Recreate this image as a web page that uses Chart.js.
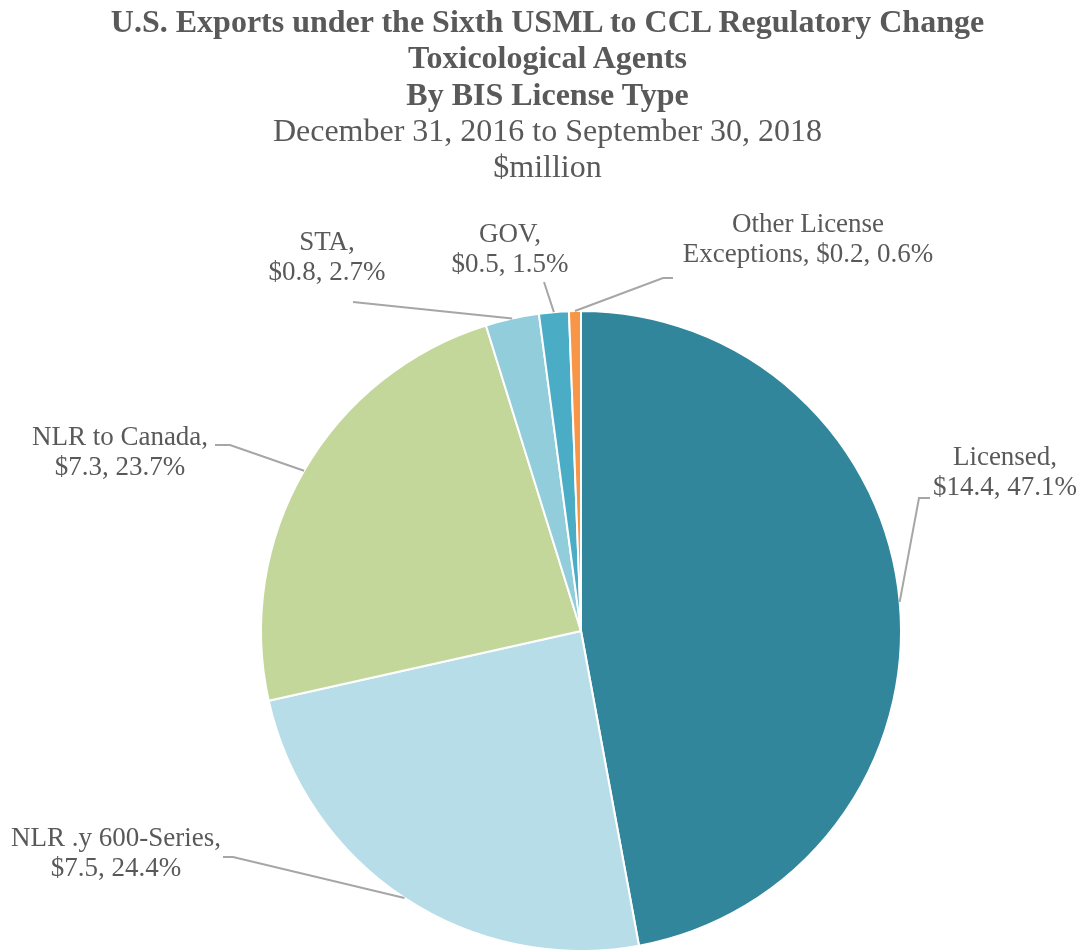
<!DOCTYPE html>
<html>
<head>
<meta charset="utf-8">
<script src="https://cdn.jsdelivr.net/npm/chart.js@4/dist/chart.umd.min.js"></script>
<style>
  html, body { margin: 0; padding: 0; background: #fff; }
  #wrap { position: relative; width: 1083px; height: 950px; overflow: hidden; }
  #title {
    position: absolute; left: 6px; top: 3px; width: 1083px;
    text-align: center; color: #595959;
    font-family: "Liberation Serif", "Times New Roman", serif;
    font-size: 32px; line-height: 36.3px;
  }
  #title b { font-weight: bold; }
  canvas { position: absolute; left: 0; top: 0; }
</style>
</head>
<body>
<div id="wrap">
  <canvas id="pie" width="1083" height="950"></canvas>
  <div id="title">
    <b>U.S. Exports under the Sixth USML to CCL Regulatory Change</b><br>
    <b>Toxicological Agents</b><br>
    <b>By BIS License Type</b><br>
    December 31, 2016 to September 30, 2018<br>
    $million
  </div>
</div>
<script>
// Slices, clockwise from 12 o'clock
const categories = ['Licensed', 'NLR .y 600-Series', 'NLR to Canada', 'STA', 'GOV', 'Other License Exceptions'];
const valuesMillion = [14.4, 7.5, 7.3, 0.8, 0.5, 0.2];
const sharePercent = [47.1, 24.4, 23.7, 2.7, 1.5, 0.6];
const sliceColors = ['#31869B', '#B7DDE8', '#C4D79B', '#92CDDC', '#4BACC6', '#F79646'];

// How each data label is broken into lines
const labelLines = [
  ['Licensed,', '{v}, {p}'],
  ['NLR .y 600-Series,', '{v}, {p}'],
  ['NLR to Canada,', '{v}, {p}'],
  ['STA,', '{v}, {p}'],
  ['GOV,', '{v}, {p}'],
  ['Other License', 'Exceptions, {v}, {p}']
];

// Label placement (text centre) and leader-line bend points, in canvas px
const labelLayout = [
  { x: 1005, y: 458, leader: [[919, 498], [930, 498]] },
  { x: 116, y: 839, leader: [[233, 857], [223, 857]] },
  { x: 120, y: 438, leader: [[230, 445], [215, 445]] },
  { x: 327, y: 243, leader: [[353, 302]] },
  { x: 510, y: 235, leader: [[544, 282]] },
  { x: 808, y: 225, leader: [[663, 278], [673, 278]] }
];

const LABEL_FONT = '27px "Liberation Serif", "Times New Roman", serif';
const LINE_GAP = 30;

function fillTemplate(line, i) {
  return line
    .replace('{v}', '$' + valuesMillion[i].toFixed(1))
    .replace('{p}', sharePercent[i].toFixed(1) + '%');
}

// Draws leader lines from the middle of each arc, then the label text
const pieLabels = {
  id: 'pieLabels',
  afterDatasetsDraw(chart) {
    const ctx = chart.ctx;
    const arcs = chart.getDatasetMeta(0).data;
    ctx.save();
    arcs.forEach((arc, i) => {
      const { x, y, startAngle, endAngle, outerRadius } =
        arc.getProps(['x', 'y', 'startAngle', 'endAngle', 'outerRadius'], true);
      const mid = (startAngle + endAngle) / 2;
      const ax = x + Math.cos(mid) * outerRadius;
      const ay = y + Math.sin(mid) * outerRadius;
      const lay = labelLayout[i];

      ctx.strokeStyle = '#A6A6A6';
      ctx.lineWidth = 2;
      ctx.beginPath();
      ctx.moveTo(ax, ay);
      lay.leader.forEach(p => ctx.lineTo(p[0], p[1]));
      ctx.stroke();

      ctx.fillStyle = '#595959';
      ctx.font = LABEL_FONT;
      ctx.textAlign = 'center';
      ctx.textBaseline = 'middle';
      labelLines[i].forEach((line, k) => {
        ctx.fillText(fillTemplate(line, i), lay.x, lay.y + k * LINE_GAP);
      });
    });
    ctx.restore();
  }
};

const ctx = document.getElementById('pie').getContext('2d');
new Chart(ctx, {
  type: 'pie',
  data: {
    labels: categories,
    datasets: [{
      data: sharePercent,
      backgroundColor: sliceColors,
      borderColor: '#ffffff',
      borderWidth: 2,
      radius: 320
    }]
  },
  options: {
    responsive: false,
    animation: false,
    layout: { padding: { left: 261, right: 182, top: 312, bottom: 0 } },
    plugins: {
      legend: { display: false },
      tooltip: { enabled: false },
      title: { display: false }
    }
  },
  plugins: [pieLabels]
});
</script>
</body>
</html>
